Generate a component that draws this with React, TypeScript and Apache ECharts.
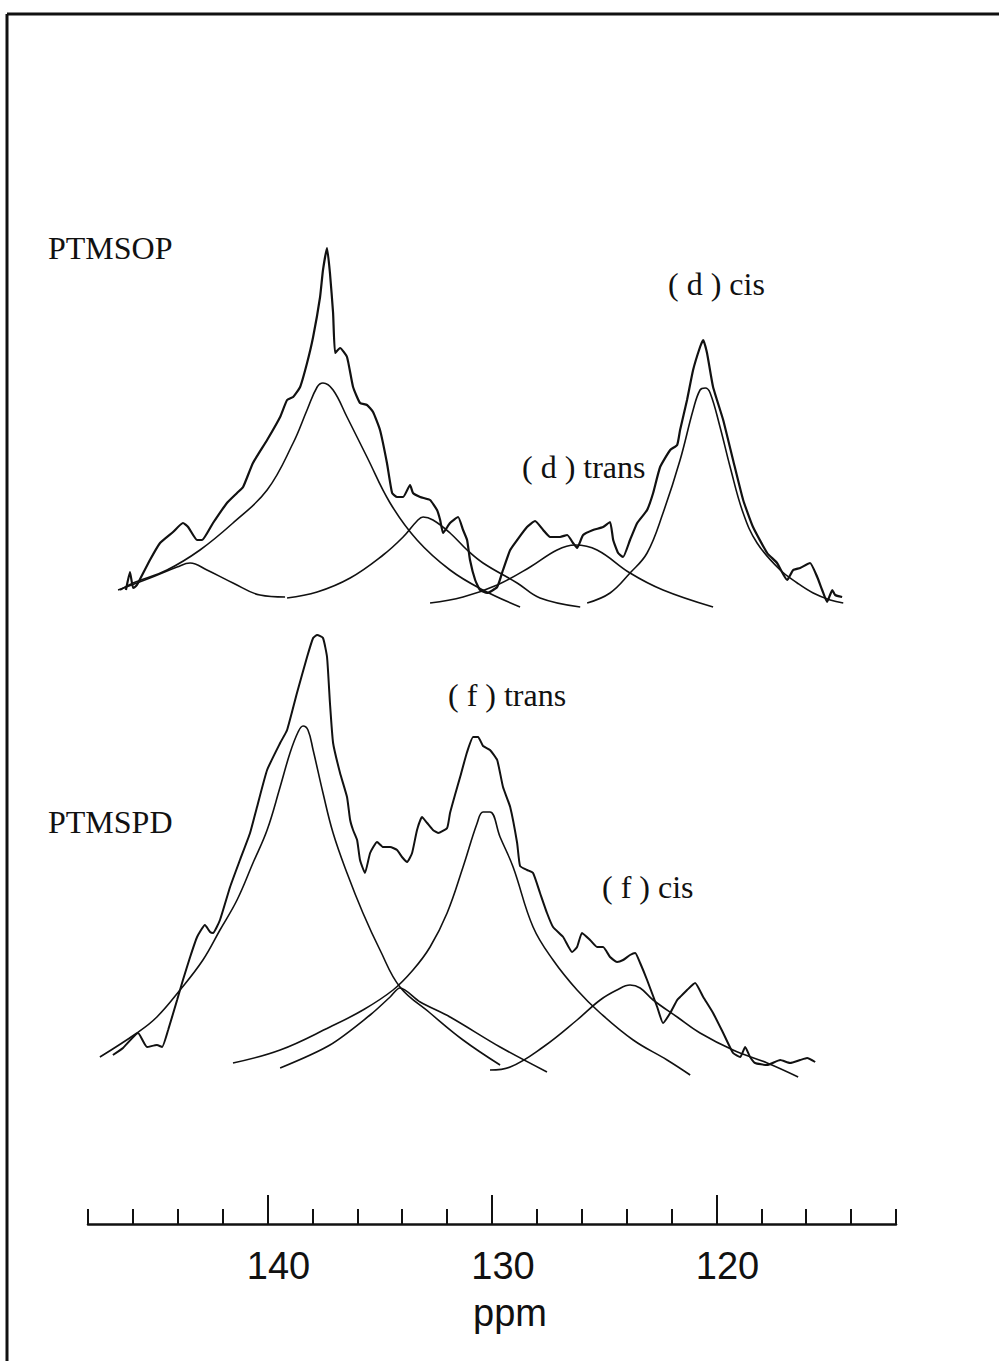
import React, { useEffect, useRef } from 'react';
import * as echarts from 'echarts';

// x axis: chemical shift (ppm), drawn reversed as in NMR spectra
const PPM_MIN = 112;
const PPM_MAX = 148;
const MINOR_STEP = 2;
const MAJOR_TICKS = [140, 130, 120];
const AXIS_NAME = 'ppm';

// vertical offsets of the two stacked spectra (arbitrary intensity units)
const TOP_OFFSET = 614;
const BOTTOM_OFFSET = 139;
const Y_MAX = 1224;

// PTMSOP experimental spectrum [ppm, intensity]
const PTMSOP_EXP: [number, number][] = [
  [146.31, 20], [146.13, 38], [145.99, 22], [145.86, 24], [145.77, 27], [145.24, 50], [144.79, 67], [144.21, 78],
  [143.77, 87], [143.54, 83], [143.14, 70], [142.92, 70], [142.43, 87], [141.81, 107], [141.36, 117], [141.09, 123],
  [140.65, 147], [140.02, 170], [139.44, 193], [139.13, 210], [138.86, 213], [138.55, 223], [138.24, 247], [137.97, 273],
  [137.66, 313], [137.53, 340], [137.35, 362], [137.22, 337], [137.08, 297], [136.99, 257], [136.77, 262], [136.46, 253],
  [136.19, 223], [135.88, 207], [135.57, 205], [135.3, 198], [134.99, 180], [134.68, 147], [134.45, 117], [134.23, 113],
  [133.96, 113], [133.65, 125], [133.52, 117], [133.2, 113], [132.76, 110], [132.45, 100], [132.31, 90], [132.18, 77],
  [131.87, 87], [131.51, 93], [131.29, 80], [131.11, 70], [130.98, 50], [130.75, 30], [130.53, 20], [130.22, 17],
  [129.77, 23], [129.51, 40], [129.19, 60], [128.88, 70], [128.44, 83], [128.08, 89], [127.72, 80], [127.41, 73],
  [126.97, 73], [126.65, 75], [126.39, 67], [126.21, 62], [125.94, 75], [125.5, 80], [125.05, 83], [124.74, 88],
  [124.6, 70], [124.38, 57], [124.16, 53], [123.85, 70], [123.53, 87], [123.09, 100], [122.82, 117], [122.51, 143],
  [122.06, 160], [121.75, 165], [121.62, 180], [121.31, 210], [121.04, 240], [120.73, 263], [120.59, 270], [120.42, 257],
  [120.15, 223], [119.7, 190], [119.26, 150], [118.81, 110], [118.37, 83], [117.74, 57], [117.3, 47], [116.85, 30],
  [116.58, 40], [116.27, 42], [115.83, 47], [115.51, 33], [115.29, 20], [115.07, 8], [114.84, 20], [114.71, 15],
  [114.4, 13],
];

// PTMSOP fitted components
const PTMSOP_FIT_144: [number, number][] = [
  [146.66, 20], [145.24, 32], [144.03, 43], [143.45, 47], [142.7, 40], [141.54, 27], [140.34, 15], [139.22, 13],
];
const PTMSOP_FIT_133: [number, number][] = [
  [139.13, 12], [137.79, 18], [136.32, 32], [134.85, 55], [133.96, 73], [133.34, 89], [133.07, 93], [132.63, 90],
  [131.87, 77], [131.11, 60], [130.4, 47], [128.88, 27], [127.86, 12], [126.07, 3],
];
const PTMSOP_FIT_138: [number, number][] = [
  [146.57, 20], [145.99, 27], [144.48, 40], [143.01, 60], [141.54, 87], [140.02, 120], [138.86, 167], [138.24, 200],
  [137.79, 223], [137.53, 227], [137.08, 220], [136.46, 193], [135.57, 153], [134.54, 107], [133.34, 70], [131.87, 40],
  [130.4, 20], [128.75, 3],
];
const PTMSOP_FIT_TRANS: [number, number][] = [
  [132.76, 7], [131.29, 13], [129.77, 25], [128.3, 43], [127.1, 60], [126.3, 65], [125.32, 60], [123.85, 37],
  [122.38, 20], [120.15, 3],
];
const PTMSOP_FIT_CIS: [number, number][] = [
  [125.76, 7], [124.74, 17], [123.85, 37], [123.09, 57], [122.38, 97], [121.62, 150], [121.04, 200], [120.73, 220],
  [120.5, 222], [120.28, 217], [119.84, 183], [119.39, 143], [118.81, 97], [118.19, 67], [117.16, 40], [116.4, 27],
  [115.69, 17], [114.93, 10], [114.35, 7],
];

// PTMSPD experimental spectrum [ppm, intensity]
const PTMSPD_EXP: [number, number][] = [
  [146.89, 30], [146.44, 37], [145.77, 52], [145.37, 38], [144.93, 40], [144.7, 38], [144.43, 55], [144.03, 85],
  [143.77, 105], [143.45, 128], [143.14, 148], [142.79, 160], [142.56, 153], [142.43, 152], [142.12, 165], [141.67, 198],
  [141.23, 225], [140.78, 252], [140.47, 278], [140.02, 315], [139.44, 342], [139.13, 355], [138.69, 392], [138.24, 428],
  [137.97, 447], [137.79, 450], [137.53, 447], [137.35, 428], [137.22, 382], [137.08, 342], [136.77, 312], [136.46, 288],
  [136.32, 265], [136.19, 255], [136.01, 245], [135.88, 225], [135.66, 212], [135.43, 232], [135.12, 243], [134.85, 238],
  [134.54, 238], [134.23, 235], [134.01, 228], [133.78, 223], [133.56, 232], [133.34, 255], [133.12, 268], [132.89, 262],
  [132.63, 255], [132.4, 252], [132.0, 257], [131.87, 272], [131.65, 290], [131.42, 308], [131.11, 333], [130.84, 348],
  [130.62, 348], [130.4, 339], [130.09, 335], [129.77, 325], [129.51, 298], [129.19, 278], [128.88, 242], [128.75, 219],
  [128.44, 215], [128.17, 212], [127.86, 192], [127.55, 172], [127.28, 158], [126.83, 148], [126.43, 133], [126.21, 138],
  [125.99, 152], [125.63, 145], [125.32, 138], [125.05, 138], [124.74, 128], [124.43, 123], [124.16, 125], [123.85, 130],
  [123.62, 132], [123.4, 122], [123.09, 105], [122.64, 78], [122.38, 62], [122.06, 72], [121.75, 85], [121.62, 88],
  [121.31, 95], [120.95, 102], [120.59, 88], [120.15, 72], [119.7, 52], [119.26, 32], [118.94, 28], [118.72, 38],
  [118.5, 28], [118.28, 22], [117.74, 20], [117.16, 25], [116.72, 22], [116.27, 25], [115.96, 27], [115.6, 23],
];

// PTMSPD fitted components
const PTMSPD_FIT_138: [number, number][] = [
  [147.47, 28], [145.82, 52], [144.93, 68], [143.9, 95], [142.88, 125], [142.12, 155], [141.36, 185], [140.65, 222],
  [140.02, 255], [139.44, 298], [139.0, 332], [138.64, 353], [138.42, 359], [138.2, 355], [137.97, 335], [137.53, 292],
  [137.08, 252], [136.46, 212], [135.75, 172], [134.99, 135], [134.1, 98], [132.76, 72], [131.29, 45], [129.64, 20],
];
const PTMSPD_FIT_134: [number, number][] = [
  [139.44, 17], [137.22, 40], [135.43, 70], [134.54, 88], [134.1, 97], [133.2, 83], [131.87, 68], [129.64, 38],
  [127.55, 13],
];
const PTMSPD_FIT_TRANS: [number, number][] = [
  [141.54, 22], [139.44, 35], [137.22, 58], [135.75, 75], [134.41, 95], [133.52, 115], [132.76, 138], [132.0, 172],
  [131.29, 218], [130.66, 262], [130.4, 273], [130.09, 273], [129.64, 248], [129.06, 218], [128.17, 158], [127.28, 125],
  [126.21, 95], [125.18, 72], [123.71, 45], [122.2, 25], [121.17, 10],
];
const PTMSPD_FIT_CIS: [number, number][] = [
  [130.09, 15], [129.19, 18], [127.72, 38], [126.21, 65], [125.18, 85], [124.43, 95], [123.85, 100], [123.4, 97],
  [122.82, 85], [121.75, 68], [120.73, 52], [119.26, 35], [117.74, 22], [116.36, 8],
];

const INK = '#111';
const SERIF = 'Liberation Serif, Times New Roman, serif';
const SANS = 'Liberation Sans, Arial, Helvetica, sans-serif';

export default function App() {
  const ref = useRef<HTMLDivElement>(null);

  useEffect(() => {
    if (!ref.current) return;
    const chart = echarts.init(ref.current, null, { renderer: 'svg' });

    const line = (name: string, data: [number, number][], offset: number, width: number, smooth: number) => ({
      type: 'line',
      name,
      data: data.map(([p, v]) => [p, v + offset]),
      showSymbol: false,
      symbol: 'none',
      smooth,
      silent: true,
      xAxisIndex: 0,
      yAxisIndex: 0,
      lineStyle: { color: INK, width },
    });

    const label = (text: string, x: number, y: number) => ({
      type: 'text',
      x,
      y,
      silent: true,
      style: { text, fill: INK, fontFamily: SERIF, fontSize: 32, align: 'left', verticalAlign: 'middle' },
    });

    chart.setOption({
      animation: false,
      backgroundColor: '#fff',
      grid: { left: 88, right: 103, top: 0, bottom: 137, containLabel: false, outerBoundsMode: 'none' },
      xAxis: [
        {
          type: 'value',
          min: PPM_MIN,
          max: PPM_MAX,
          interval: MINOR_STEP,
          inverse: true,
          position: 'bottom',
          axisLine: { show: true, lineStyle: { color: INK, width: 2.5 } },
          axisTick: { show: true, inside: true, length: 15, lineStyle: { color: INK, width: 2 } },
          axisLabel: { show: false },
          splitLine: { show: false },
        },
        {
          type: 'value',
          min: PPM_MIN,
          max: PPM_MAX,
          inverse: true,
          position: 'bottom',
          axisLine: { show: false },
          axisTick: { show: true, inside: true, length: 29, customValues: MAJOR_TICKS, lineStyle: { color: INK, width: 2 } },
          axisLabel: {
            show: true,
            customValues: MAJOR_TICKS,
            margin: 23,
            fontSize: 38,
            fontFamily: SANS,
            color: INK,
            padding: [0, 0, 0, 22],
          },
          splitLine: { show: false },
          name: AXIS_NAME,
          nameLocation: 'middle',
          nameGap: 70,
          nameTextStyle: { fontSize: 38, fontFamily: SANS, color: INK, padding: [0, 0, 0, 36] },
        },
      ],
      yAxis: { type: 'value', min: 0, max: Y_MAX, show: false },
      series: [
        line('PTMSOP', PTMSOP_EXP, TOP_OFFSET, 2.2, 0.15),
        line('PTMSOP fit 144', PTMSOP_FIT_144, TOP_OFFSET, 1.6, 0.4),
        line('PTMSOP fit 133', PTMSOP_FIT_133, TOP_OFFSET, 1.6, 0.4),
        line('PTMSOP fit 138', PTMSOP_FIT_138, TOP_OFFSET, 1.6, 0.4),
        line('PTMSOP (d) trans', PTMSOP_FIT_TRANS, TOP_OFFSET, 1.6, 0.4),
        line('PTMSOP (d) cis', PTMSOP_FIT_CIS, TOP_OFFSET, 1.6, 0.4),
        line('PTMSPD', PTMSPD_EXP, BOTTOM_OFFSET, 2.0, 0.15),
        line('PTMSPD fit 138', PTMSPD_FIT_138, BOTTOM_OFFSET, 1.6, 0.4),
        line('PTMSPD fit 134', PTMSPD_FIT_134, BOTTOM_OFFSET, 1.6, 0.3),
        line('PTMSPD (f) trans', PTMSPD_FIT_TRANS, BOTTOM_OFFSET, 1.6, 0.4),
        line('PTMSPD (f) cis', PTMSPD_FIT_CIS, BOTTOM_OFFSET, 1.6, 0.4),
      ],
      graphic: [
        { type: 'line', silent: true, shape: { x1: 7, y1: 14, x2: 7, y2: 1361 }, style: { stroke: INK, lineWidth: 3 } },
        { type: 'line', silent: true, shape: { x1: 7, y1: 14, x2: 999, y2: 14 }, style: { stroke: INK, lineWidth: 3 } },
        label('PTMSOP', 48, 248),
        label('PTMSPD', 48, 822),
        label('( d ) cis', 668, 284),
        label('( d ) trans', 522, 467),
        label('( f ) trans', 448, 695),
        label('( f ) cis', 602, 887),
      ],
    });

    return () => chart.dispose();
  }, []);

  return (
    <div
      ref={ref}
      style={{ position: 'absolute', left: 0, top: 0, width: 999, height: 1361, background: '#fff' }}
    />
  );
}
